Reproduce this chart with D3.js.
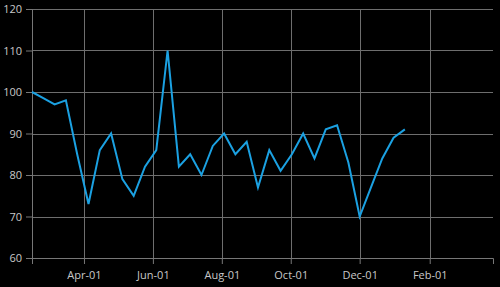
<!DOCTYPE html>
<html>
<head>
<meta charset="utf-8">
<script src="https://cdn.jsdelivr.net/npm/d3@7"></script>
<style>
  html, body { margin: 0; padding: 0; background: #000; }
  svg { display: block; }
  .axis text { fill: #c8c8c8; font-family: "Segoe UI", "Open Sans", sans-serif; font-size: 11px; }
  .axis path, .axis line { stroke: #777; }
  .grid line { stroke: #6e6e6e; stroke-width: 1; }
</style>
</head>
<body>
<div class="chart"></div>
<script>
var startDate = '2001-02-14', stepDays = 10;
var values = [100, 98.5, 97, 98, 85, 73, 86, 90, 79, 75, 82, 86, 110, 82, 85, 80, 87, 90,
              85, 88, 77, 86, 81, 85, 90, 84, 91, 92, 83, 70, 77, 84, 89, 91];
var xDomain = ['2001-02-14', '2002-03-29'];
var yTicks = [60, 70, 80, 90, 100, 110, 120];
var xTicks = ['2001-04-01', '2001-06-01', '2001-08-01', '2001-10-01', '2001-12-01', '2002-02-01'];

var parse = d3.timeParse('%Y-%m-%d');
var t0 = parse(startDate);
var data = values.map(function(v, i) {
  return { date: d3.timeDay.offset(t0, i * stepDays), value: v };
});

var W = 500, H = 287,
    margin = { top: 9, right: 7, bottom: 29, left: 32 },
    width = W - margin.left - margin.right,
    height = H - margin.top - margin.bottom;

var svg = d3.select('.chart').append('svg')
    .attr('width', W).attr('height', H)
    .style('background', '#000');

var g = svg.append('g').attr('transform', 'translate(' + margin.left + ',' + margin.top + ')');

var x = d3.scaleTime().domain(xDomain.map(parse)).range([0, width]);
var y = d3.scaleLinear().domain([60, 120]).range([height, 0]);

// grid
g.append('g').attr('class', 'grid')
  .selectAll('line.h')
  .data(yTicks)
  .join('line')
  .attr('x1', 0).attr('x2', width)
  .attr('y1', d => Math.round(y(d)) + 0.5).attr('y2', d => Math.round(y(d)) + 0.5);

g.append('g').attr('class', 'grid')
  .selectAll('line.v')
  .data(xTicks.map(parse))
  .join('line')
  .attr('y1', 0).attr('y2', height)
  .attr('x1', d => Math.round(x(d)) + 0.5).attr('x2', d => Math.round(x(d)) + 0.5);

// axes
g.append('g').attr('class', 'axis')
  .attr('transform', 'translate(0,' + height + ')')
  .call(d3.axisBottom(x).tickValues(xTicks.map(parse)).tickFormat(d3.timeFormat('%b-%d')).tickSizeOuter(0).tickSize(6).tickPadding(7));

g.append('g').attr('class', 'axis')
  .call(d3.axisLeft(y).tickValues(yTicks).tickSizeOuter(0).tickSize(6).tickPadding(4));

// line
var line = d3.line()
  .x(d => x(d.date))
  .y(d => y(d.value));

g.append('path')
  .datum(data)
  .attr('fill', 'none')
  .attr('stroke', '#1ba1e2')
  .attr('stroke-width', 2)
  .attr('stroke-linejoin', 'miter')
  .attr('d', line);
</script>
</body>
</html>
